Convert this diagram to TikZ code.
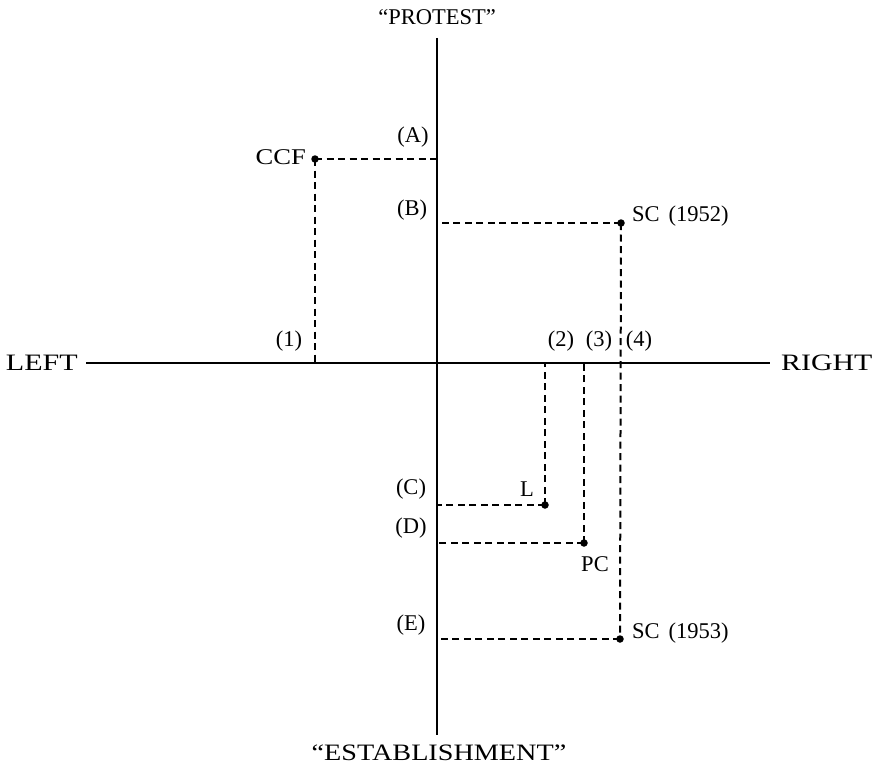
\documentclass[tikz,border=0pt]{standalone}
\usepackage{fontspec}
\setmainfont{Liberation Serif}
\begin{document}
\begin{tikzpicture}[x=1pt,y=-1pt,
  lbl/.style={inner sep=0pt,font=\fontsize{22.5}{27}\selectfont},
  axlbl/.style={inner sep=0pt,font=\fontsize{23.5}{28}\selectfont},
  axis/.style={line width=2.8pt},
  guide/.style={line width=2pt,dash pattern=on 7pt off 4.5pt},
  dot/.style={circle,fill=black,inner sep=0pt,minimum size=7.5pt}]
\useasboundingbox (0,0) rectangle (884,768);
% axes endpoints
\coordinate (top) at (437,38);
\coordinate (bot) at (437,735);
\coordinate (lft) at (86,363);
\coordinate (rgt) at (770,363);
\draw[axis] (top) -- (bot);
\draw[axis,line width=2.4pt] (lft) -- (rgt);
% axis labels
\node[lbl] (protest) at (437,17) {“PROTEST”};
\node[axlbl] (estab) at (439,753) {\scalebox{1.2}[1]{“ESTABLISHMENT”}};
\node[axlbl,anchor=east] (left) at (78,363) {\scalebox{1.28}[1]{LEFT}};
\node[axlbl,anchor=west] (right) at (781,363) {\scalebox{1.27}[1]{RIGHT}};
% points
\node[dot] (ccf) at (315,159) {};
\node[dot] (sc52) at (621,223) {};
\node[dot] (l) at (545,505) {};
\node[dot] (pc) at (584,543) {};
\node[dot] (sc53) at (620,639) {};
% axis foot coordinates
\coordinate (a) at (437,159);
\coordinate (b) at (437,223);
\coordinate (c) at (437,505);
\coordinate (d) at (437,543);
\coordinate (e) at (437,639);
\coordinate (x1) at (315,363);
\coordinate (x2) at (545,363);
\coordinate (x3) at (584,363);
% guides
\draw[guide] (ccf.center) -- (a);
\draw[guide] (ccf.center) -- (x1);
\draw[guide] (sc52.center) -- (b);
\draw[guide] (sc52.center) -- (sc53.center);
\draw[guide] (l.center) -- (x2);
\draw[guide] (l.center) -- (c);
\draw[guide] (pc.center) -- (x3);
\draw[guide] (pc.center) -- (d);
\draw[guide] (sc53.center) -- (e);
% point labels
\node[lbl,anchor=east] (ccfl) at (306,157) {\scalebox{1.18}[1]{CCF}};
\node[lbl,anchor=west] (sc52l) at (632,216) {SC\hspace{9pt}(1952)};
\node[lbl] (ll) at (527,489) {L};
\node[lbl] (pcl) at (595,564) {PC};
\node[lbl,anchor=west] (sc53l) at (632,633) {SC\hspace{9pt}(1953)};
% letters and numbers
\node[lbl] (la) at (413,137) {(A)};
\node[lbl] (lb) at (412,210) {(B)};
\node[lbl] (lc) at (411,489) {(C)};
\node[lbl] (ld) at (411,528) {(D)};
\node[lbl] (le) at (411,625) {(E)};
\node[lbl] (n1) at (289,341) {(1)};
\node[lbl] (n2) at (561,341) {(2)};
\node[lbl] (n3) at (599,341) {(3)};
\node[lbl] (n4) at (639,341) {(4)};
\end{tikzpicture}
\end{document}
